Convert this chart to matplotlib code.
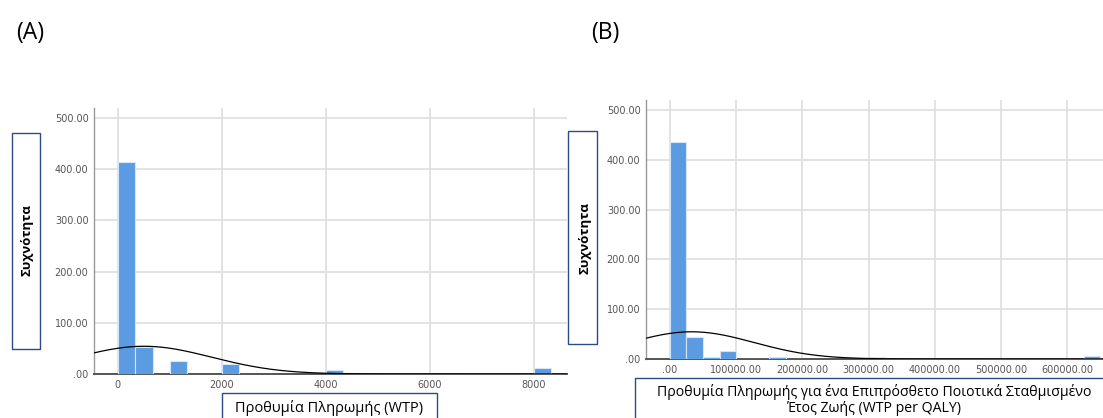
import numpy as np
import matplotlib
matplotlib.use("Agg")
import matplotlib.pyplot as plt
from matplotlib.patches import Rectangle

plt.rcParams['font.family'] = ['Open Sans', 'DejaVu Sans']

# ---------------- data ----------------
# Panel A: WTP histogram
bins_a = [0, 333, 1000, 2000, 4000, 8000]
counts_a = [414, 53, 25, 20, 7, 11]
binw_a = 333
mean_a, sd_a, n_a = 500, 1300, 530
xticks_a = [0, 2000, 4000, 6000, 8000]
xticklabels_a = ["0", "2000", "4000", "6000", "8000"]

# Panel B: WTP per QALY histogram
bins_b = [0, 25000, 50000, 75000, 100000, 125000, 150000, 175000, 300000, 625000]
counts_b = [436, 44, 4, 16, 1, 1, 4, 1, 4, 6]
binw_b = 25000
mean_b, sd_b, n_b = 33000, 94000, 515
xticks_b = [0, 100000, 200000, 300000, 400000, 500000, 600000]
xticklabels_b = [".00", "100000.00", "200000.00", "300000.00", "400000.00",
                 "500000.00", "600000.00"]

yticks = [0, 100, 200, 300, 400, 500]
yticklabels = [".00", "100.00", "200.00", "300.00", "400.00", "500.00"]

ylabel = "Συχνότητα"
xlabel_a = "Προθυμία Πληρωμής (WTP)"
xlabel_b = "Προθυμία Πληρωμής για ένα Επιπρόσθετο Ποιοτικά Σταθμισμένο\nΈτος Ζωής (WTP per QALY)"

# ---------------- figure ----------------
W, H = 1103, 418
fig = plt.figure(figsize=(W / 100, H / 100), dpi=100)
fig.patch.set_facecolor("white")

BAR = "#5b9be1"
BAR_EDGE = "#d6e5f7"
GRID = "#e0e0e0"
BOX = "#2f4a8a"


def px_axes(left, top, right, bottom):
    return fig.add_axes([left / W, (H - bottom) / H, (right - left) / W, (bottom - top) / H])


def style(ax, xlim, ylim, xt, xtl):
    ax.set_xlim(*xlim)
    ax.set_ylim(*ylim)
    ax.set_xticks(xt)
    ax.set_xticklabels(xtl)
    ax.set_yticks(yticks)
    ax.set_yticklabels(yticklabels)
    ax.grid(True, color=GRID, linewidth=1.3)
    ax.set_axisbelow(True)
    for s in ("top", "right"):
        ax.spines[s].set_visible(False)
    ax.spines["left"].set_color("#9a9a9a")
    ax.spines["left"].set_linewidth(1.0)
    ax.spines["bottom"].set_color("#555555")
    ax.spines["bottom"].set_linewidth(1.4)
    ax.tick_params(length=0, labelsize=7, colors="#555555", pad=4)
    for lab in ax.get_xticklabels() + ax.get_yticklabels():
        lab.set_family("DejaVu Sans")


def normal_curve(ax, mean, sd, n, bw, xlim):
    x = np.linspace(xlim[0], xlim[1], 600)
    y = n * bw / (sd * np.sqrt(2 * np.pi)) * np.exp(-0.5 * ((x - mean) / sd) ** 2)
    ax.plot(x, y, color="black", linewidth=0.9, zorder=4)


# Panel A
xlim_a = (-460, 8635)
ax1 = px_axes(94, 108, 567, 374)
style(ax1, xlim_a, (0, 519.5), xticks_a, xticklabels_a)
ax1.bar(bins_a, counts_a, width=binw_a, align="edge", color=BAR,
        edgecolor=BAR_EDGE, linewidth=0.8, zorder=3)
normal_curve(ax1, mean_a, sd_a, n_a, binw_a, xlim_a)

# Panel B
xlim_b = (-36000, 654000)
ax2 = px_axes(646, 100, 1103, 359)
style(ax2, xlim_b, (0, 520), xticks_b, xticklabels_b)
ax2.bar(bins_b, counts_b, width=binw_b, align="edge", color=BAR,
        edgecolor=BAR_EDGE, linewidth=0.8, zorder=3)
normal_curve(ax2, mean_b, sd_b, n_b, binw_b, xlim_b)


# ---------------- boxes & labels ----------------
def px_box(left, top, right, bottom):
    r = Rectangle((left / W, (H - bottom) / H), (right - left) / W, (bottom - top) / H,
                  transform=fig.transFigure, fill=False, edgecolor=BOX, linewidth=1.0)
    fig.add_artist(r)


def px_text(x, y, s, **kw):
    fig.text(x / W, (H - y) / H, s, **kw)


# panel letters
px_text(30, 33, "(A)", fontsize=16.5, ha="center", va="center")
px_text(605, 33, "(B)", fontsize=16.5, ha="center", va="center")

# y label boxes
px_box(12, 133, 40, 349)
px_text(27, 240, ylabel, rotation=90, fontsize=9.5, fontweight="bold", ha="center", va="center")
px_box(568, 131, 597, 344)
px_text(585, 238, ylabel, rotation=90, fontsize=9.5, fontweight="bold", ha="center", va="center")

# x label boxes
px_box(222, 393, 437, 430)
px_text(329, 408, xlabel_a, fontsize=10.5, ha="center", va="center")
px_box(635, 378, 1110, 440)
px_text(874, 400, xlabel_b, fontsize=10.2, ha="center", va="center", linespacing=1.15)

fig.savefig("out.png", dpi=100, facecolor="white")
